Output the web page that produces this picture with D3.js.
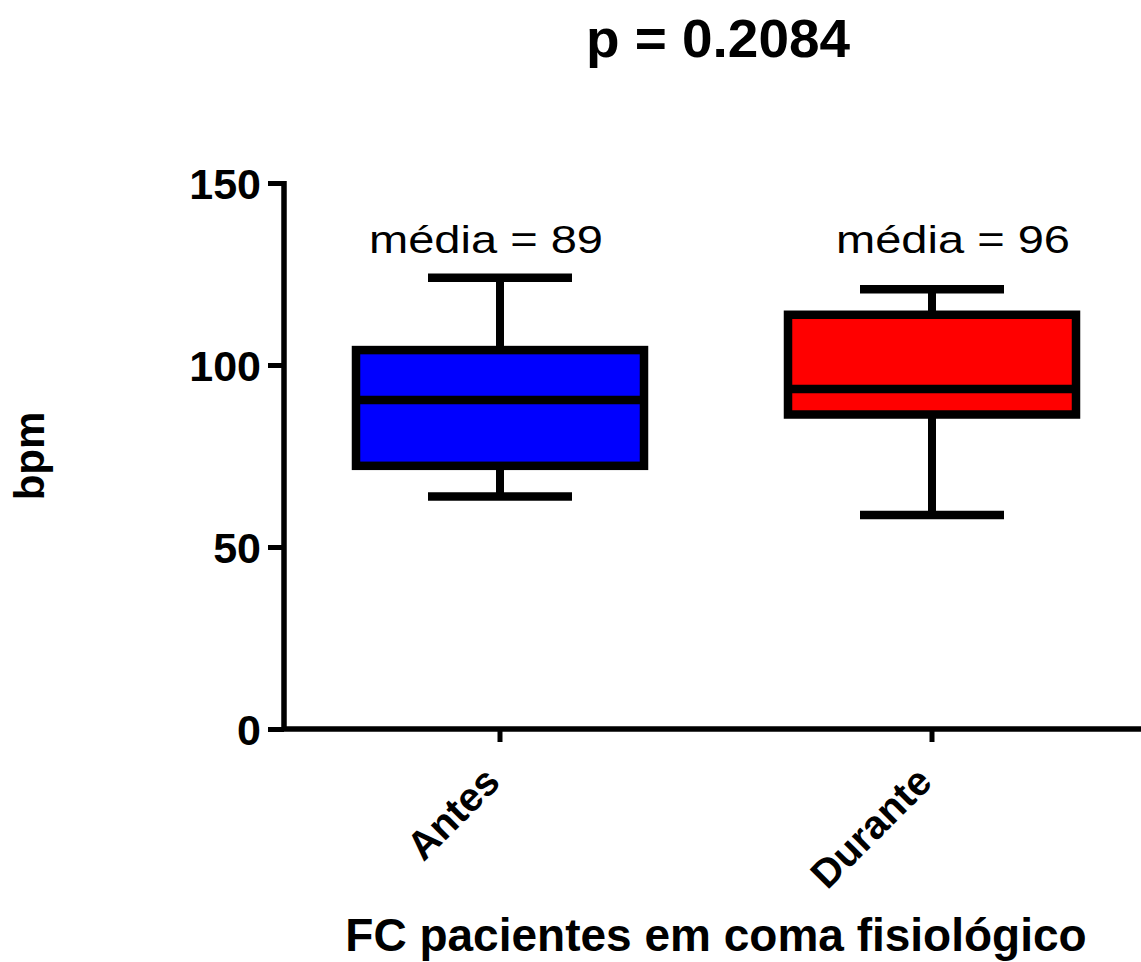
<!DOCTYPE html>
<html>
<head>
<meta charset="utf-8">
<script src="https://cdn.jsdelivr.net/npm/d3@7"></script>
<style>
  body { margin: 0; background: #fff; }
  svg { display: block; font-family: "Liberation Sans", Arial, sans-serif; }
</style>
</head>
<body>
<svg id="chart" width="1141" height="962"></svg>
<script>
var categories = ["Antes", "Durante"];
var whiskerLow = [63.9, 58.8];
var q1 = [72.3, 86.4];
var median = [90.4, 93.4];
var q3 = [104.1, 113.8];
var whiskerHigh = [124.0, 120.8];
var meanLabels = ["média = 89", "média = 96"];
var colors = ["#0000ff", "#ff0000"];
var yTicks = [0, 50, 100, 150];

var svg = d3.select("#chart");

var x = d3.scaleBand().domain(categories).range([284, 1148]).padding(0);
var y = d3.scaleLinear().domain([0, 150]).range([729, 183]);

var boxes = categories.map(function (c, i) {
  return {
    name: c,
    lo: whiskerLow[i],
    q1: q1[i],
    med: median[i],
    q3: q3[i],
    hi: whiskerHigh[i],
    color: colors[i],
    label: meanLabels[i]
  };
});

// y axis
var yAxis = svg.append("g")
  .attr("transform", "translate(284,0)")
  .call(d3.axisLeft(y).tickValues(yTicks).tickSize(16).tickPadding(7));

// x axis
var xAxis = svg.append("g")
  .attr("transform", "translate(0,729)")
  .call(d3.axisBottom(x).tickSize(13).tickSizeOuter(0));

[yAxis, xAxis].forEach(function (ax) {
  ax.select(".domain").attr("stroke", "#000").attr("stroke-width", 5.5);
  ax.selectAll(".tick line").attr("stroke", "#000").attr("stroke-width", 5);
});
yAxis.select(".domain").attr("d", "M0,181V729");
xAxis.select(".domain").attr("d", "M282,0H1141");

yAxis.selectAll(".tick text")
  .attr("font-size", 43)
  .attr("font-weight", "bold")
  .attr("fill", "#000")
  .attr("font-family", "Liberation Sans, Arial, sans-serif")
  .attr("dy", "0.36em");

xAxis.selectAll(".tick text")
  .attr("font-size", 40)
  .attr("font-weight", "bold")
  .attr("fill", "#000")
  .attr("font-family", "Liberation Sans, Arial, sans-serif")
  .attr("text-anchor", "end")
  .attr("x", 0)
  .attr("y", 0)
  .attr("dy", 0)
  .attr("transform", "translate(2,55) rotate(-45)");

var bw = x.bandwidth() * 2 / 3;
var cw = x.bandwidth() / 3;

var g = svg.selectAll(".box")
  .data(boxes)
  .enter()
  .append("g")
  .attr("class", "box")
  .attr("transform", function (d) {
    return "translate(" + (x(d.name) + x.bandwidth() / 2) + ",0)";
  });

// whiskers
g.append("line")
  .attr("x1", 0).attr("x2", 0)
  .attr("y1", function (d) { return y(d.hi); })
  .attr("y2", function (d) { return y(d.q3); })
  .attr("stroke", "#000").attr("stroke-width", 8);
g.append("line")
  .attr("x1", 0).attr("x2", 0)
  .attr("y1", function (d) { return y(d.q1); })
  .attr("y2", function (d) { return y(d.lo); })
  .attr("stroke", "#000").attr("stroke-width", 8);

// caps
g.append("line")
  .attr("x1", -cw / 2).attr("x2", cw / 2)
  .attr("y1", function (d) { return y(d.hi); })
  .attr("y2", function (d) { return y(d.hi); })
  .attr("stroke", "#000").attr("stroke-width", 8.5);
g.append("line")
  .attr("x1", -cw / 2).attr("x2", cw / 2)
  .attr("y1", function (d) { return y(d.lo); })
  .attr("y2", function (d) { return y(d.lo); })
  .attr("stroke", "#000").attr("stroke-width", 8.5);

// box
g.append("rect")
  .attr("x", -bw / 2)
  .attr("width", bw)
  .attr("y", function (d) { return y(d.q3); })
  .attr("height", function (d) { return y(d.q1) - y(d.q3); })
  .attr("fill", function (d) { return d.color; })
  .attr("stroke", "#000")
  .attr("stroke-width", 8.5);

// median
g.append("line")
  .attr("x1", -bw / 2).attr("x2", bw / 2)
  .attr("y1", function (d) { return y(d.med); })
  .attr("y2", function (d) { return y(d.med); })
  .attr("stroke", "#000").attr("stroke-width", 8.5);

// mean labels (reference text is set wide, so stretch to its measured width)
var labelShift = [-14, 21];
svg.selectAll(".mean")
  .data(boxes)
  .enter()
  .append("text")
  .attr("class", "mean")
  .attr("x", function (d, i) { return x(d.name) + x.bandwidth() / 2 + labelShift[i]; })
  .attr("y", 253)
  .attr("text-anchor", "middle")
  .attr("font-size", 39)
  .attr("textLength", 234)
  .attr("lengthAdjust", "spacingAndGlyphs")
  .attr("fill", "#000")
  .text(function (d) { return d.label; });

// title
svg.append("text")
  .attr("x", 718)
  .attr("y", 57)
  .attr("text-anchor", "middle")
  .attr("font-size", 53)
  .attr("textLength", 264)
  .attr("lengthAdjust", "spacingAndGlyphs")
  .attr("font-weight", "bold")
  .text("p = 0.2084");

// y title
svg.append("text")
  .attr("transform", "translate(44,456) rotate(-90)")
  .attr("text-anchor", "middle")
  .attr("font-size", 42)
  .attr("font-weight", "bold")
  .text("bpm");

// x title
svg.append("text")
  .attr("x", 716)
  .attr("y", 951)
  .attr("text-anchor", "middle")
  .attr("font-size", 46)
  .attr("font-weight", "bold")
  .text("FC pacientes em coma fisiológico");
</script>
</body>
</html>
